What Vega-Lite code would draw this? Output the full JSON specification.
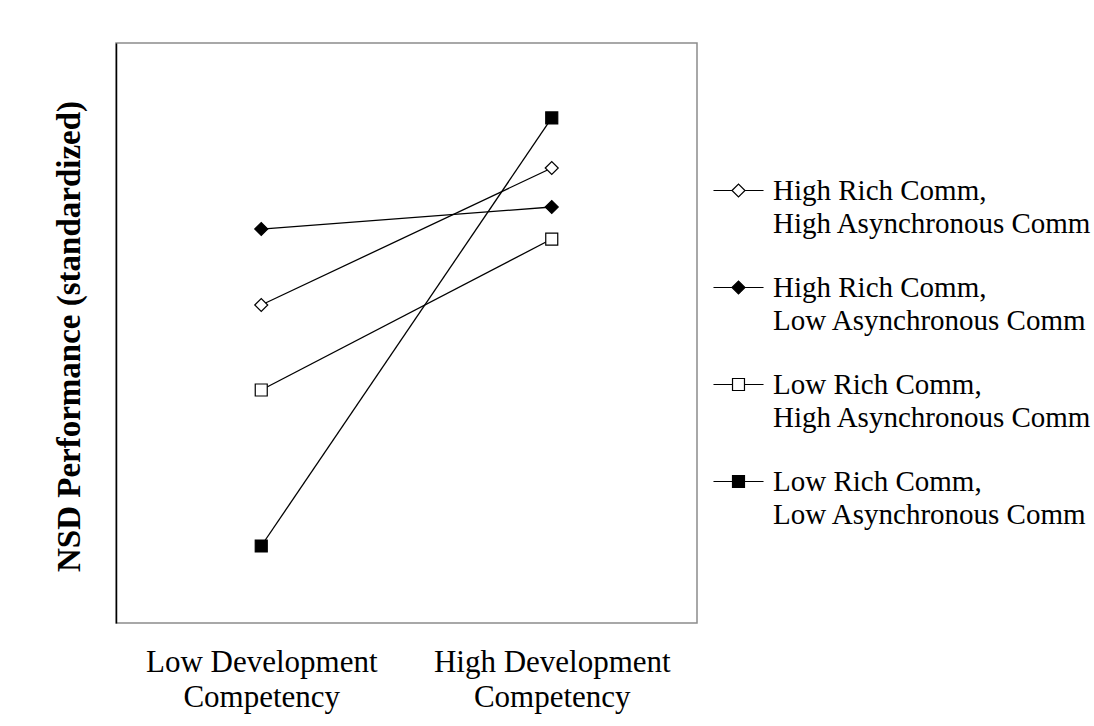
{
  "$schema": "https://vega.github.io/schema/vega-lite/v6.json",
  "width": 581,
  "height": 580,
  "autosize": {"type": "none"},
  "padding": {"left": 116, "top": 43, "right": 397, "bottom": 103},
  "background": "white",
  "config": {
    "font": "Liberation Serif",
    "view": {"stroke": "#8c8c8c", "strokeWidth": 1.5},
    "style": {"guide-label": {"lineHeight": 33}},
    "legend": {
      "title": null,
      "orient": "none",
      "legendX": 608,
      "legendY": 133,
      "padding": 0,
      "labelFontSize": 29,
      "labelOffset": 20,
      "rowPadding": 34,
      "symbolSize": 169,
      "symbolStrokeWidth": 1.2,
      "symbolOpacity": 1,
      "labelColor": "black",
      "labelLimit": 400
    }
  },
  "data": {
    "values": [
      {"series": "High Rich Comm, High Asynchronous Comm", "comp": "Low Development Competency", "value": 0.193},
      {"series": "High Rich Comm, High Asynchronous Comm", "comp": "High Development Competency", "value": 1.138},
      {"series": "High Rich Comm, Low Asynchronous Comm", "comp": "Low Development Competency", "value": 0.717},
      {"series": "High Rich Comm, Low Asynchronous Comm", "comp": "High Development Competency", "value": 0.869},
      {"series": "Low Rich Comm, High Asynchronous Comm", "comp": "Low Development Competency", "value": -0.393},
      {"series": "Low Rich Comm, High Asynchronous Comm", "comp": "High Development Competency", "value": 0.648},
      {"series": "Low Rich Comm, Low Asynchronous Comm", "comp": "Low Development Competency", "value": -1.469},
      {"series": "Low Rich Comm, Low Asynchronous Comm", "comp": "High Development Competency", "value": 1.483}
    ]
  },
  "encoding": {
    "x": {
      "field": "comp",
      "type": "nominal",
      "sort": ["Low Development Competency", "High Development Competency"],
      "scale": {"type": "point", "padding": 0.5},
      "axis": {
        "title": null,
        "ticks": false,
        "domain": false,
        "labelAngle": 0,
        "labelFontSize": 31,
        "labelLineHeight": 35,
        "labelPadding": 24,
        "labelColor": "black",
        "labelLimit": 400,
        "labelExpr": "[replace(datum.label, ' Competency', ''), 'Competency']"
      }
    },
    "y": {
      "field": "value",
      "type": "quantitative",
      "scale": {"domain": [-2, 2]},
      "axis": {
        "title": "NSD Performance  (standardized)",
        "titleFontWeight": "bold",
        "titleFontSize": 33,
        "titleColor": "black",
        "titlePadding": 30,
        "titleY": 293,
        "labels": false,
        "ticks": false,
        "grid": false,
        "domainColor": "black",
        "domainWidth": 1.5
      }
    }
  },
  "layer": [
    {
      "mark": {"type": "line", "color": "black", "strokeWidth": 1.3},
      "encoding": {"detail": {"field": "series"}}
    },
    {
      "mark": {"type": "point", "filled": true, "stroke": "black", "strokeWidth": 1.2, "opacity": 1, "size": 150},
      "encoding": {
        "shape": {
          "field": "series",
          "type": "nominal",
          "scale": {
            "domain": ["High Rich Comm, High Asynchronous Comm", "High Rich Comm, Low Asynchronous Comm", "Low Rich Comm, High Asynchronous Comm", "Low Rich Comm, Low Asynchronous Comm"],
            "range": ["M-1.06,0L0,-1.06L1.06,0L0,1.06Z", "M-1.06,0L0,-1.06L1.06,0L0,1.06Z", "M-0.98,-0.98H0.98V0.98H-0.98Z", "M-0.98,-0.98H0.98V0.98H-0.98Z"]
          },
          "legend": null
        },
        "fill": {
          "field": "series",
          "type": "nominal",
          "scale": {
            "domain": ["High Rich Comm, High Asynchronous Comm", "High Rich Comm, Low Asynchronous Comm", "Low Rich Comm, High Asynchronous Comm", "Low Rich Comm, Low Asynchronous Comm"],
            "range": ["white", "black", "white", "black"]
          },
          "legend": null
        }
      }
    },
    {
      "transform": [{"filter": "datum.value > 100"}],
      "mark": {"type": "point", "filled": true, "strokeWidth": 1.2, "opacity": 1, "size": 169},
      "encoding": {
        "shape": {
          "field": "series",
          "type": "nominal",
          "scale": {
            "domain": ["High Rich Comm, High Asynchronous Comm", "High Rich Comm, Low Asynchronous Comm", "Low Rich Comm, High Asynchronous Comm", "Low Rich Comm, Low Asynchronous Comm"],
            "range": [
              "M-1,0L0,-1L1,0L0,1Z M-3.85,0H-1 M1,0H3.85",
              "M-1,0L0,-1L1,0L0,1Z M-3.85,0H-1 M1,0H3.85",
              "M-0.92,-0.92H0.92V0.92H-0.92Z M-3.85,0H-0.92 M0.92,0H3.85",
              "M-0.92,-0.92H0.92V0.92H-0.92Z M-3.85,0H-0.92 M0.92,0H3.85"
            ]
          },
          "legend": {"labelExpr": "[split(datum.label, ', ')[0] + ',', split(datum.label, ', ')[1]]"}
        },
        "fill": {
          "field": "series",
          "type": "nominal",
          "scale": {
            "domain": ["High Rich Comm, High Asynchronous Comm", "High Rich Comm, Low Asynchronous Comm", "Low Rich Comm, High Asynchronous Comm", "Low Rich Comm, Low Asynchronous Comm"],
            "range": ["white", "black", "white", "black"]
          },
          "legend": {"labelExpr": "[split(datum.label, ', ')[0] + ',', split(datum.label, ', ')[1]]"}
        },
        "stroke": {
          "field": "series",
          "type": "nominal",
          "scale": {
            "domain": ["High Rich Comm, High Asynchronous Comm", "High Rich Comm, Low Asynchronous Comm", "Low Rich Comm, High Asynchronous Comm", "Low Rich Comm, Low Asynchronous Comm"],
            "range": ["black", "black", "black", "black"]
          },
          "legend": {"labelExpr": "[split(datum.label, ', ')[0] + ',', split(datum.label, ', ')[1]]"}
        }
      }
    }
  ],
  "resolve": {
    "scale": {"shape": "independent", "fill": "independent", "stroke": "independent"},
    "legend": {"shape": "independent", "fill": "independent", "stroke": "independent"}
  }
}
